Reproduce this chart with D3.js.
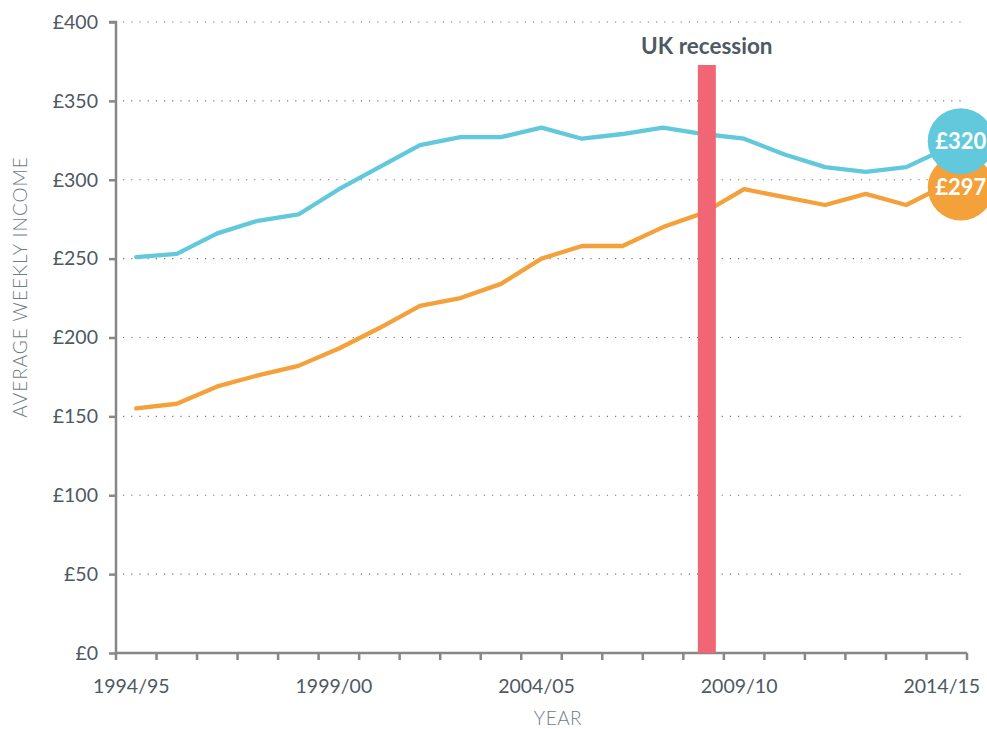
<!DOCTYPE html>
<html lang="en">
<head>
    <meta charset="UTF-8">
    <title>Average weekly income</title>
    <style>
        body { margin: 0; background: #fff; }
        text { font-family: 'Lato', sans-serif; fill: #4d5963; }
        .axis path, .axis line { stroke: #878787; stroke-width: 2.5px; }
        .axis text { font-size: 19.5px; fill: #4d5963; }
        .grid line { stroke: #777; stroke-width: 1.2px; stroke-dasharray: 1.2,7; }
        .series { fill: none; stroke-width: 4.3px; stroke-linejoin: round; stroke-linecap: round; }
    </style>
</head>
<body>
<script src="https://d3js.org/d3.v7.min.js"></script>
<script>

    const size = {'width': 987, 'height': 729};
    const margin = {'top': 22, 'right': 20, 'bottom': 76, 'left': 116};

    const years = ['1994/95', '1995/96', '1996/97', '1997/98', '1998/99', '1999/00', '2000/01',
        '2001/02', '2002/03', '2003/04', '2004/05', '2005/06', '2006/07', '2007/08', '2008/09',
        '2009/10', '2010/11', '2011/12', '2012/13', '2013/14', '2014/15'];
    const labelYears = ['1994/95', '1999/00', '2004/05', '2009/10', '2014/15'];
    const incomeBlue = [251, 253, 266, 274, 278, 294, 308, 322, 327, 327, 333,
        326, 329, 333, 329, 326, 316, 308, 305, 308, 320];
    const incomeOrange = [155, 158, 169, 176, 182, 193, 206, 220, 225, 234, 250,
        258, 258, 270, 279, 294, 289, 284, 291, 284, 297];
    const yTicks = [0, 50, 100, 150, 200, 250, 300, 350, 400];
    const recessionYear = '2008/09';

    const colour = {'blue': '#62c9dc', 'orange': '#f4a03b', 'recession': '#f06674'};

    const w = 967 - margin.left;
    const h = 653 - margin.top;

    let svg = d3.select('body').append('svg')
        .attr('width', size.width)
        .attr('height', size.height);

    let g = svg.append('g')
        .attr('transform', 'translate(' + margin.left + ',' + margin.top + ')');

    let x = d3.scaleBand().domain(years).range([0, w]);
    let y = d3.scaleLinear().domain([0, 400]).range([h, 0]);
    let cx = function(d) { return x(d) + x.bandwidth() / 2; };

    // dotted grid
    g.append('g')
        .attr('class', 'grid')
        .selectAll('line')
        .data(yTicks.slice(1))
        .enter().append('line')
        .attr('x1', 7)
        .attr('x2', w)
        .attr('y1', function(d) { return y(d); })
        .attr('y2', function(d) { return y(d); });

    // x axis: ticks at band edges, labels at band centres
    let xAxis = g.append('g')
        .attr('class', 'axis')
        .attr('transform', 'translate(0,' + h + ')');
    xAxis.append('line')
        .attr('x1', 0).attr('x2', w);
    xAxis.selectAll('.tick')
        .data(years.concat(['end']))
        .enter().append('line')
        .attr('x1', function(d, i) { return i * x.bandwidth(); })
        .attr('x2', function(d, i) { return i * x.bandwidth(); })
        .attr('y1', 0)
        .attr('y2', 7);
    xAxis.selectAll('text')
        .data(labelYears)
        .enter().append('text')
        .attr('x', function(d) { return cx(d) - 5; })
        .attr('y', 40)
        .attr('text-anchor', 'middle')
        .text(function(d) { return d; });

    // y axis
    let yAxis = g.append('g')
        .attr('class', 'axis')
        .call(d3.axisLeft(y).tickValues(yTicks).tickSize(7).tickPadding(11)
            .tickFormat(function(d) { return '£' + d; }));
    yAxis.select('.domain').attr('d', 'M0,' + h + 'V0H-7');
    yAxis.selectAll('.tick text').style('font-size', '19.5px');

    // series
    let line = d3.line()
        .x(function(d, i) { return cx(years[i]); })
        .y(function(d) { return y(d); });

    g.append('path')
        .datum(incomeBlue)
        .attr('class', 'series')
        .style('stroke', colour.blue)
        .attr('d', line);

    g.append('path')
        .datum(incomeOrange)
        .attr('class', 'series')
        .style('stroke', colour.orange)
        .attr('d', line);

    // recession bar
    g.append('rect')
        .attr('x', x(recessionYear) + x.bandwidth() * 0.58 - 9)
        .attr('y', 43)
        .attr('width', 18)
        .attr('height', h - 43)
        .style('fill', colour.recession);

    g.append('text')
        .attr('x', x(recessionYear) + x.bandwidth() * 0.58)
        .attr('y', 32)
        .attr('text-anchor', 'middle')
        .style('font-size', '22.5px')
        .style('font-weight', 'bold')
        .text('UK recession');

    // end value bubbles
    let last = years[years.length - 1];
    let bubbles = [
        {'value': incomeOrange[incomeOrange.length - 1], 'colour': colour.orange, 'dy': 3},
        {'value': incomeBlue[incomeBlue.length - 1], 'colour': colour.blue, 'dy': -7}
    ];
    let bubble = g.selectAll('.bubble')
        .data(bubbles)
        .enter().append('g')
        .attr('transform', function(d) { return 'translate(' + (cx(last) + 14) + ',' + (y(d.value) + d.dy) + ')'; });
    bubble.append('circle')
        .attr('r', 33)
        .style('fill', function(d) { return d.colour; });
    bubble.append('text')
        .attr('text-anchor', 'middle')
        .attr('dy', '0.36em')
        .style('font-size', '22px')
        .style('font-weight', 'bold')
        .style('fill', '#fff')
        .text(function(d) { return '£' + d.value; });

    // axis titles
    svg.append('text')
        .attr('transform', 'translate(27,' + 287 + ') rotate(-90)')
        .attr('text-anchor', 'middle')
        .style('font-size', '19px')
        .style('font-weight', 300)
        .style('letter-spacing', '1px')
        .style('fill', '#6f7c85')
        .text('AVERAGE WEEKLY INCOME');

    svg.append('text')
        .attr('x', 558)
        .attr('y', 725)
        .attr('text-anchor', 'middle')
        .style('font-size', '19px')
        .style('font-weight', 300)
        .style('letter-spacing', '0.5px')
        .style('fill', '#6f7c85')
        .text('YEAR');

</script>
</body>
</html>
